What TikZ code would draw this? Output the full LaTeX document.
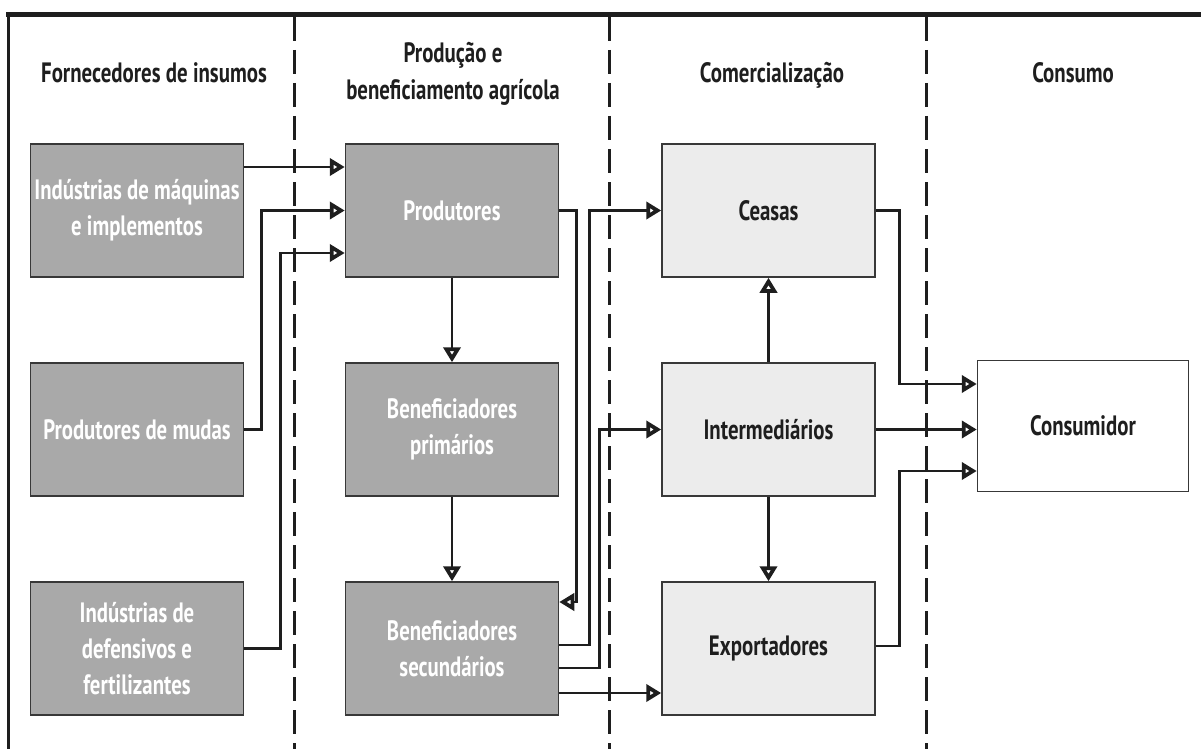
\documentclass[tikz,border=0pt]{standalone}
\usepackage{fontspec}
\setmainfont{PT Sans}
\newfontfamily\hfont{PT Sans}[FakeStretch=0.745]
\newfontfamily\bfont{PT Sans}[FakeStretch=0.742]
\usetikzlibrary{arrows.meta}
\definecolor{darkbox}{HTML}{A9A9A9}
\definecolor{lightbox}{HTML}{ECECEC}
\definecolor{ink}{HTML}{1E1E1E}
\definecolor{edge}{HTML}{383838}
\tikzset{
  box/.style={rectangle, draw=edge, line width=1.5pt, minimum width=213pt, minimum height=133pt, inner sep=0pt, align=center},
  darkb/.style={box, fill=darkbox, text=white, font=\bfont\bfseries\fontsize{28}{36}\selectfont},
  lightb/.style={box, fill=lightbox, text=ink, font=\hfont\bfseries\fontsize{28}{36}\selectfont},
  whiteb/.style={box, fill=white, text=ink, font=\hfont\bfseries\fontsize{28}{36}\selectfont, minimum width=211pt, minimum height=131pt},
  header/.style={text=ink, anchor=base, inner sep=0pt, font=\hfont\bfseries\fontsize{28}{37}\selectfont},
  arr/.style={draw=ink, line width=2.6pt, -{Triangle[length=15pt, width=17pt, line width=4.5pt, fill=white]}},
  divider/.style={draw=ink, line width=3pt, dash pattern=on 24pt off 9pt},
}
\begin{document}
\begin{tikzpicture}[x=1pt, y=-1pt]
\useasboundingbox (0,0) rectangle (1201,749);
% frame
\draw[ink, line width=5pt] (6,15) -- (1201,15);
\draw[ink, line width=3pt] (8.4,13) -- (8.4,749);
% dividers
\draw[divider] (294,17) -- (294,749);
\draw[divider] (609.5,17) -- (609.5,749);
\draw[divider] (926,17) -- (926,749);
% headers
\node[header] (h1) at (154,83) {Fornecedores de insumos};
\node[header] (h2a) at (453,63) {Produção e};
\node[header] (h2b) at (453,100) {beneficiamento agrícola};
\node[header] (h3) at (772,82.5) {Comercialização};
\node[header] (h4) at (1073,82.5) {Consumo};
% boxes
\node[darkb] (ind) at (137,210.5) {Indústrias de máquinas\\e implementos};
\node[darkb] (mud) at (137,429.5) {Produtores de mudas};
\node[darkb] (def) at (137,648.5) {Indústrias de\\defensivos e\\fertilizantes};
\node[darkb] (prod) at (452,210.5) {Produtores};
\node[darkb] (bp) at (452,429.5) {Beneficiadores\\primários};
\node[darkb] (bs) at (452,648.5) {Beneficiadores\\secundários};
\node[lightb] (cea) at (768.5,210.5) {Ceasas};
\node[lightb] (int) at (768.5,429.5) {Intermediários};
\node[lightb] (exp) at (768.5,648.5) {Exportadores};
\node[whiteb] (con) at (1083,426) {Consumidor};
% connectors
\draw[arr] ([yshift=43.5pt]ind.east) -- ([yshift=43.5pt]prod.west);
\draw[arr] (mud.east) -- ++(17,0) |- (prod.west);
\draw[arr] (def.east) -- ++(36,0) |- ([yshift=-42.5pt]prod.west);
\draw[arr] (prod.south) -- (bp.north);
\draw[arr] (bp.south) -- (bs.north);
\draw[arr] (prod.east) -- ++(17,0) |- ([yshift=46.5pt]bs.east);
\draw[arr] ([yshift=3.5pt]bs.east) -- ++(30,0) |- (cea.west);
\draw[arr] ([yshift=-19.5pt]bs.east) -- ++(40,0) |- (int.west);
\draw[arr] ([yshift=-44.5pt]bs.east) -- ([yshift=-44.5pt]exp.west);
\draw[arr] (int.north) -- (cea.south);
\draw[arr] (int.south) -- (exp.north);
\draw[arr] (cea.east) -- ++(24,0) |- ([yshift=42pt]con.west);
\draw[arr] (int.east) -- (int.east -| con.west);
\draw[arr] ([yshift=2.5pt]exp.east) -- ++(24,0) |- ([yshift=-45pt]con.west);
\end{tikzpicture}
\end{document}
